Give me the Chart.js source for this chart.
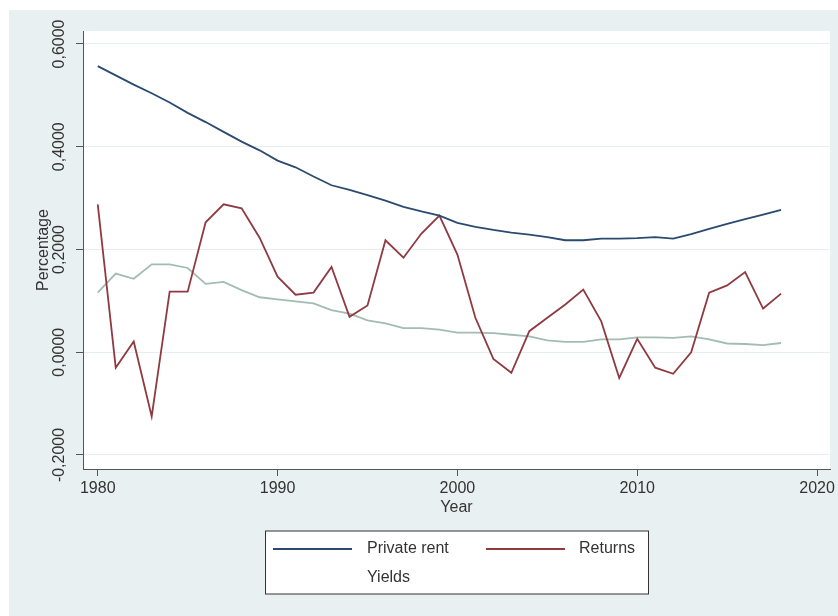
<!DOCTYPE html>
<html>
<head>
<meta charset="utf-8">
<script src="https://cdn.jsdelivr.net/npm/chart.js@4"></script>
<style>
  html, body { margin: 0; padding: 0; background: #ffffff; }
  #wrap { position: relative; width: 838px; height: 616px; }
  #panel { position: absolute; left: 9px; top: 10px; width: 829px; height: 606px; background: #e9f0f2; }
  #c { position: absolute; left: 0; top: 0; }
</style>
</head>
<body>
<div id="wrap">
  <div id="panel"></div>
  <canvas id="c" width="838" height="616"></canvas>
</div>
<script>
// Annual series, 1980-2018
const years = [1980,1981,1982,1983,1984,1985,1986,1987,1988,1989,1990,1991,1992,1993,1994,1995,1996,1997,1998,1999,2000,2001,2002,2003,2004,2005,2006,2007,2008,2009,2010,2011,2012,2013,2014,2015,2016,2017,2018];

const privateRent = [0.557,0.539,0.521,0.504,0.486,0.466,0.448,0.429,0.410,0.393,0.373,0.360,0.342,0.325,0.316,0.306,0.295,0.283,0.274,0.266,0.252,0.244,0.238,0.233,0.229,0.224,0.218,0.218,0.221,0.221,0.222,0.224,0.221,0.230,0.240,0.250,0.259,0.268,0.277];

const returns = [0.288,-0.030,0.021,-0.125,0.118,0.118,0.253,0.288,0.280,0.223,0.147,0.112,0.116,0.166,0.069,0.091,0.218,0.184,0.231,0.266,0.190,0.067,-0.013,-0.040,0.041,0.067,0.093,0.122,0.060,-0.050,0.026,-0.030,-0.042,0.000,0.116,0.130,0.156,0.085,0.114];

const yields = [0.116,0.153,0.143,0.171,0.171,0.164,0.133,0.137,0.121,0.107,0.103,0.099,0.095,0.082,0.075,0.062,0.056,0.047,0.047,0.044,0.038,0.038,0.037,0.034,0.031,0.023,0.020,0.020,0.025,0.025,0.029,0.029,0.028,0.031,0.025,0.017,0.016,0.014,0.018];

const seriesNames = ['Private rent', 'Returns', 'Yields'];

const xTicks = [1980, 1990, 2000, 2010, 2020];
const yTicks = [-0.2, 0, 0.2, 0.4, 0.6];
const yTickLabels = ['-0,2000', '0,0000', '0,2000', '0,4000', '0,6000'];

const xTitle = 'Year';
const yTitle = 'Percentage';

const TEXT = '#333333';
const AXIS = '#555555';
const GRID = '#e6eef0';
const FONT = "'Liberation Sans', Arial, Helvetica, sans-serif";

const pairs = arr => arr.map((v, i) => ({ x: years[i], y: v }));

// white plot region
const plotBg = {
  id: 'plotBg',
  beforeDraw(chart) {
    const { ctx, chartArea: a } = chart;
    ctx.save();
    ctx.fillStyle = '#ffffff';
    ctx.fillRect(a.left, a.top, a.right - a.left, a.bottom - a.top);
    ctx.restore();
  }
};

// vertical y tick labels
const yLabels = {
  id: 'yLabels',
  afterDraw(chart) {
    const { ctx } = chart;
    const y = chart.scales.y;
    ctx.save();
    ctx.fillStyle = TEXT;
    ctx.font = '16px ' + FONT;
    ctx.textAlign = 'center';
    ctx.textBaseline = 'middle';
    yTicks.forEach((v, i) => {
      ctx.save();
      ctx.translate(60, y.getPixelForValue(v));
      ctx.rotate(-Math.PI / 2);
      ctx.fillText(yTickLabels[i], 0, 0);
      ctx.restore();
    });
    ctx.restore();
  }
};

// boxed legend below the axis title
const boxLegend = {
  id: 'boxLegend',
  afterDraw(chart) {
    const { ctx } = chart;
    const ds = chart.data.datasets;
    const bx = 265.5, by = 531, bw = 383, bh = 63;
    ctx.save();
    ctx.fillStyle = '#ffffff';
    ctx.fillRect(bx, by, bw, bh);
    ctx.strokeStyle = '#333333';
    ctx.lineWidth = 1;
    ctx.strokeRect(bx, by, bw, bh);
    const slots = [
      { kx: 273, tx: 367, y: 549, key: true },
      { kx: 486, tx: 579, y: 549, key: true },
      { kx: 273, tx: 367, y: 578, key: false }
    ];
    ds.forEach((d, i) => {
      const s = slots[i];
      if (s.key) {
        ctx.strokeStyle = d.borderColor;
        ctx.lineWidth = d.borderWidth;
        ctx.beginPath();
        ctx.moveTo(s.kx, s.y);
        ctx.lineTo(s.kx + 79, s.y);
        ctx.stroke();
      }
      ctx.fillStyle = TEXT;
      ctx.font = '16px ' + FONT;
      ctx.textAlign = 'left';
      ctx.textBaseline = 'middle';
      ctx.fillText(d.label, s.tx, s.y);
    });
    ctx.restore();
  }
};

new Chart(document.getElementById('c'), {
  type: 'line',
  data: {
    datasets: [
      { label: seriesNames[0], data: pairs(privateRent), borderColor: '#2b4a6f', borderWidth: 1.8, pointRadius: 0, tension: 0, fill: false },
      { label: seriesNames[1], data: pairs(returns), borderColor: '#8f3a41', borderWidth: 1.8, pointRadius: 0, tension: 0, fill: false },
      { label: seriesNames[2], data: pairs(yields), borderColor: '#a2bcb2', borderWidth: 1.8, pointRadius: 0, tension: 0, fill: false }
    ]
  },
  options: {
    responsive: false,
    animation: false,
    events: [],
    layout: { padding: { left: 0, top: 31, right: 8, bottom: 99 } },
    plugins: { legend: { display: false }, tooltip: { enabled: false } },
    scales: {
      x: {
        type: 'linear',
        min: 1979.18,
        max: 2020.72,
        afterBuildTicks(s) { s.ticks = xTicks.map(v => ({ value: v })); },
        afterFit(s) { s.height = 48; },
        ticks: {
          color: TEXT,
          font: { size: 16, family: FONT },
          padding: 3,
          maxRotation: 0,
          minRotation: 0,
          callback: v => String(v)
        },
        grid: { drawOnChartArea: false, drawTicks: true, tickLength: 7, tickColor: AXIS, tickWidth: 1 },
        border: { display: true, color: AXIS, width: 1 },
        title: { display: true, text: xTitle, color: TEXT, font: { size: 16, family: FONT }, padding: { top: 0, bottom: 0 } }
      },
      y: {
        type: 'linear',
        min: -0.2273,
        max: 0.6253,
        afterBuildTicks(s) { s.ticks = yTicks.map(v => ({ value: v })); },
        afterFit(s) { s.width = 83; },
        ticks: { display: false },
        grid: { color: GRID, lineWidth: 1, drawTicks: true, tickLength: 7, tickColor: AXIS, tickWidth: 1 },
        border: { display: true, color: AXIS, width: 1 },
        title: { display: true, text: yTitle, color: TEXT, font: { size: 16, family: FONT }, padding: { top: 34, bottom: 0 } }
      }
    }
  },
  plugins: [plotBg, yLabels, boxLegend]
});
</script>
</body>
</html>
